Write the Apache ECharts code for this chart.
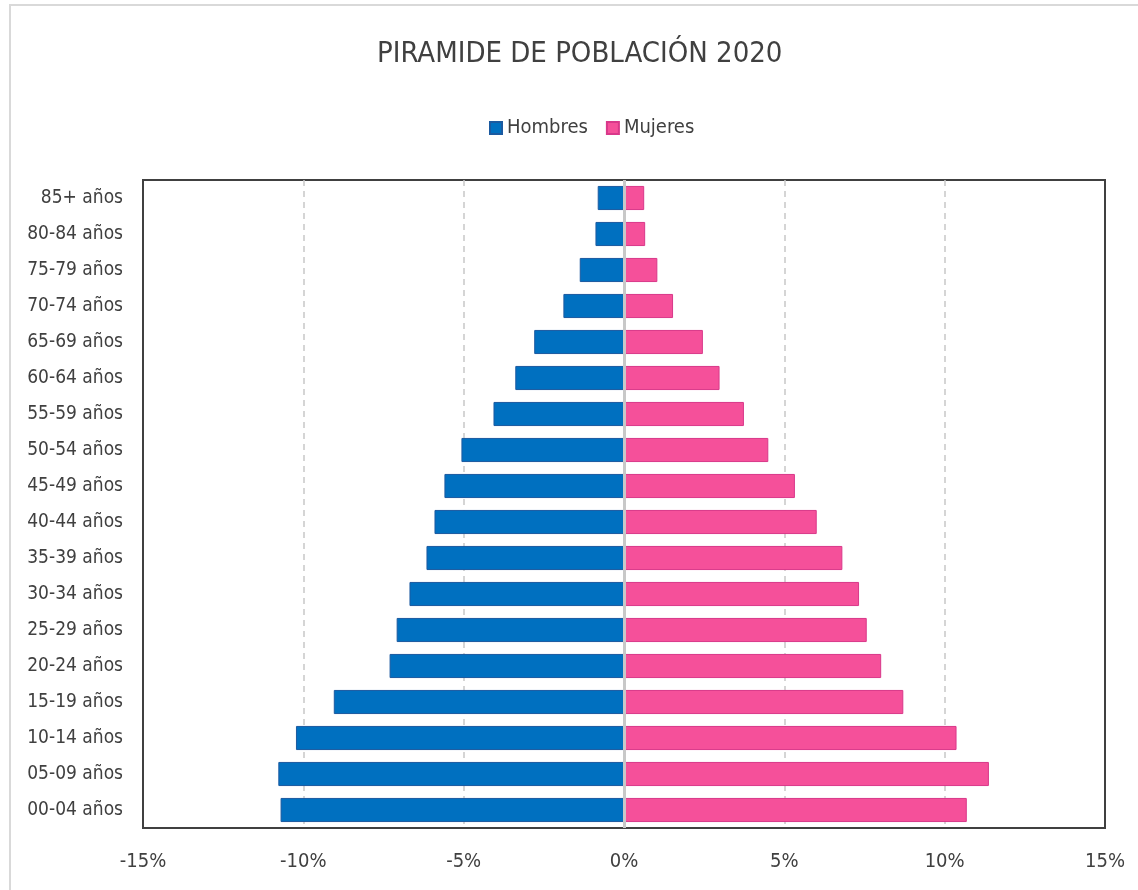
<!DOCTYPE html>
<html>
<head>
<meta charset="utf-8">
<title>Pirámide de población 2020</title>
<script src="https://cdn.jsdelivr.net/npm/echarts@6/dist/echarts.min.js"></script>
<style>
  html, body { margin: 0; padding: 0; background: #fff; }
  #chart { width: 1138px; height: 890px; }
</style>
</head>
<body>
<div id="chart"></div>
<script>
// grupos de edad, de abajo hacia arriba
var grupos = ['00-04 años','05-09 años','10-14 años','15-19 años','20-24 años','25-29 años',
  '30-34 años','35-39 años','40-44 años','45-49 años','50-54 años','55-59 años',
  '60-64 años','65-69 años','70-74 años','75-79 años','80-84 años','85+ años'];
// % de la población (hombres en negativo para el lado izquierdo)
var hombres = [-10.71,-10.78,-10.23,-9.05,-7.31,-7.09,-6.69,-6.16,-5.91,-5.60,-5.07,-4.07,
  -3.39,-2.80,-1.89,-1.38,-0.89,-0.82];
var mujeres = [10.69,11.38,10.37,8.71,8.02,7.57,7.33,6.81,6.01,5.33,4.50,3.74,
  2.98,2.46,1.53,1.04,0.66,0.63];
var ejeMin = -15, ejeMax = 15, ejePaso = 5;

var fuente = '"DejaVu Sans Condensed", "Liberation Sans Narrow", sans-serif';
var myChart = echarts.init(document.getElementById('chart'));
let option = {
    textStyle: { fontFamily: fuente },
    graphic: [{
        type: 'rect',
        shape: { x: 10, y: 5, width: 1140, height: 900 },
        style: { fill: 'none', stroke: '#d9d9d9', lineWidth: 2 },
        silent: true
    }],
    title: {
        text: 'PIRAMIDE DE POBLACIÓN 2020',
        left: 372,
        top: 35,
        textStyle: { fontFamily: fuente, fontSize: 29, fontWeight: 'normal', color: '#404040' }
    },
    legend: {
        data: ['Hombres', 'Mujeres'],
        top: 113,
        left: 484,
        itemWidth: 12,
        itemHeight: 12,
        itemGap: 18,
        icon: 'rect',
        textStyle: { fontFamily: fuente, fontSize: 20, color: '#404040' }
    },
    grid: {
        left: 143,
        right: 33,
        top: 180,
        bottom: 62,
        show: true,
        borderColor: '#404040',
        borderWidth: 2,
        containLabel: false
    },
    xAxis: {
        type: 'value',
        min: ejeMin,
        max: ejeMax,
        interval: ejePaso,
        axisLine: { show: false },
        axisTick: { show: false },
        axisLabel: {
            formatter: function (v) { return v + '%'; },
            fontFamily: fuente, fontSize: 20, color: '#404040', margin: 24
        },
        splitLine: {
            show: true,
            showMinLine: false,
            showMaxLine: false,
            lineStyle: { color: '#c8c8c8', type: [6, 5], width: 1.5 }
        }
    },
    yAxis: {
        type: 'category',
        data: grupos,
        axisLine: { show: false },
        axisTick: { show: false },
        axisLabel: { fontFamily: fuente, fontSize: 19, color: '#404040', margin: 20 }
    },
    series: [
        {
            name: 'Hombres',
            type: 'bar',
            stack: 'total',
            data: hombres,
            barCategoryGap: '33%',
            itemStyle: { color: '#0070C0', borderColor: '#1b5aa0', borderWidth: 1 },
            markLine: {
                silent: true,
                symbol: 'none',
                label: { show: false },
                lineStyle: { color: '#c8c8c8', type: 'solid', width: 3 },
                data: [{ xAxis: 0 }]
            }
        },
        {
            name: 'Mujeres',
            type: 'bar',
            stack: 'total',
            data: mujeres,
            itemStyle: { color: '#F5509A', borderColor: '#d9388a', borderWidth: 1 }
        }
    ]
};
myChart.setOption(option);
</script>
</body>
</html>
